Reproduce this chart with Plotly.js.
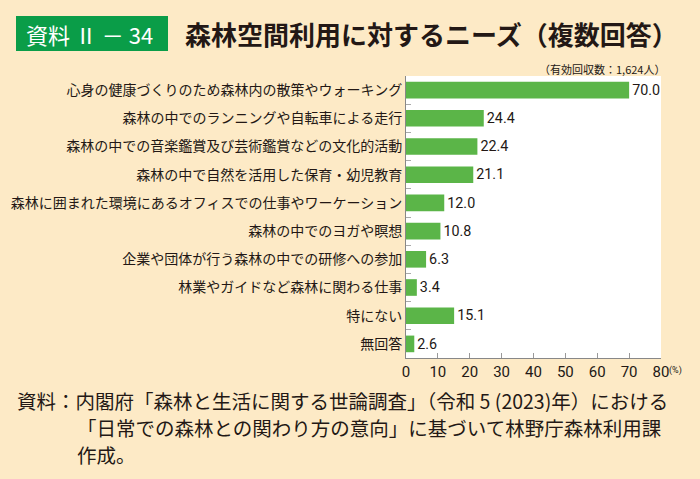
<!DOCTYPE html>
<html>
<head>
<meta charset="utf-8">
<script src="https://cdn.plot.ly/plotly-3.0.1.min.js"></script>
<style>
  html, body { margin: 0; padding: 0; background: #fdeac6; }
  #chart { width: 700px; height: 479px; }
</style>
</head>
<body>
<div id="chart"></div>
<script>
// 森林空間利用に対するニーズ（複数回答）
let categories = [
    "心身の健康づくりのため森林内の散策やウォーキング",
    "森林の中でのランニングや自転車による走行",
    "森林の中での音楽鑑賞及び芸術鑑賞などの文化的活動",
    "森林の中で自然を活用した保育・幼児教育",
    "森林に囲まれた環境にあるオフィスでの仕事やワーケーション",
    "森林の中でのヨガや瞑想",
    "企業や団体が行う森林の中での研修への参加",
    "林業やガイドなど森林に関わる仕事",
    "特にない",
    "無回答"
];
let values = [70.0, 24.4, 22.4, 21.1, 12.0, 10.8, 6.3, 3.4, 15.1, 2.6];
let tickValues = [0, 10, 20, 30, 40, 50, 60, 70, 80];

let footnote = [
    "資料：内閣府「森林と生活に関する世論調査」（令和 5 (2023)年）における",
    "「日常での森林との関わり方の意向」に基づいて林野庁森林利用課",
    "作成。"
];

// plot area in pixels
let L = 406, R = 661, T = 76, B = 358;
function px(x){ return (x - L) / (R - L); }
function py(y){ return (B - y) / (B - T); }

let dark = "#231815";
let jp = "'Noto Sans CJK JP', 'Noto Sans', sans-serif";

let annotations = [
    {x: px(24), y: py(34), text: "資料 Ⅱ － 34", xanchor: "left", yanchor: "middle",
     font: {family: jp, size: 22, color: "#ffffff"}},
    {x: px(183), y: py(34), text: "<b>森林空間利用に対するニーズ（複数回答）</b>", xanchor: "left", yanchor: "middle",
     font: {family: jp, size: 26, color: dark}},
    {x: px(667), y: py(69), text: "（有効回収数：1,624人）", xanchor: "right", yanchor: "middle",
     font: {family: jp, size: 11, color: dark}},
    {x: px(667), y: py(370), text: "(%)", xanchor: "left", yanchor: "middle",
     font: {family: "Roboto", size: 9, color: dark}},
    {x: px(15), y: py(400), text: footnote[0], xanchor: "left", yanchor: "middle", height: 24,
     font: {family: jp, size: 19.5, color: dark}},
    {x: px(75), y: py(427), text: footnote[1], xanchor: "left", yanchor: "middle", height: 24,
     font: {family: jp, size: 19.5, color: dark}},
    {x: px(75), y: py(454), text: footnote[2], xanchor: "left", yanchor: "middle", height: 24,
     font: {family: jp, size: 19.5, color: dark}}
];
annotations.forEach(a => { a.xref = "paper"; a.yref = "paper"; a.showarrow = false; });

Plotly.newPlot('chart', [{
    type: 'bar',
    orientation: 'h',
    x: values,
    y: categories,
    marker: {color: '#5bb548'},
    texttemplate: '%{x:.1f}',
    textposition: 'outside',
    cliponaxis: false,
    textfont: {family: 'Roboto', size: 15.5, color: dark},
    hoverinfo: 'none'
}], {
    width: 700,
    height: 479,
    margin: {l: L, r: 700 - R, t: T, b: 479 - B},
    paper_bgcolor: '#fdeac6',
    plot_bgcolor: '#ffffff',
    showlegend: false,
    bargap: 0.41,
    xaxis: {
        range: [0, 80],
        tickvals: tickValues,
        ticks: 'inside',
        ticklen: 5,
        tickcolor: '#999999',
        showline: true,
        linecolor: '#888888',
        linewidth: 1,
        showgrid: false,
        zeroline: false,
        tickfont: {family: 'Roboto', size: 15, color: dark},
        fixedrange: true
    },
    yaxis: {
        autorange: 'reversed',
        ticks: 'inside',
        tickson: 'boundaries',
        ticklen: 5,
        tickcolor: '#aaaaaa',
        showline: true,
        linecolor: '#888888',
        linewidth: 1,
        showgrid: false,
        tickfont: {family: jp, size: 14, color: dark},
        fixedrange: true
    },
    shapes: [{
        type: 'rect', xref: 'paper', yref: 'paper',
        x0: px(16), x1: px(168), y0: py(51), y1: py(16),
        fillcolor: '#0a9d48', line: {width: 0}
    }],
    annotations: annotations
}, {displayModeBar: false, staticPlot: true});
</script>
</body>
</html>
